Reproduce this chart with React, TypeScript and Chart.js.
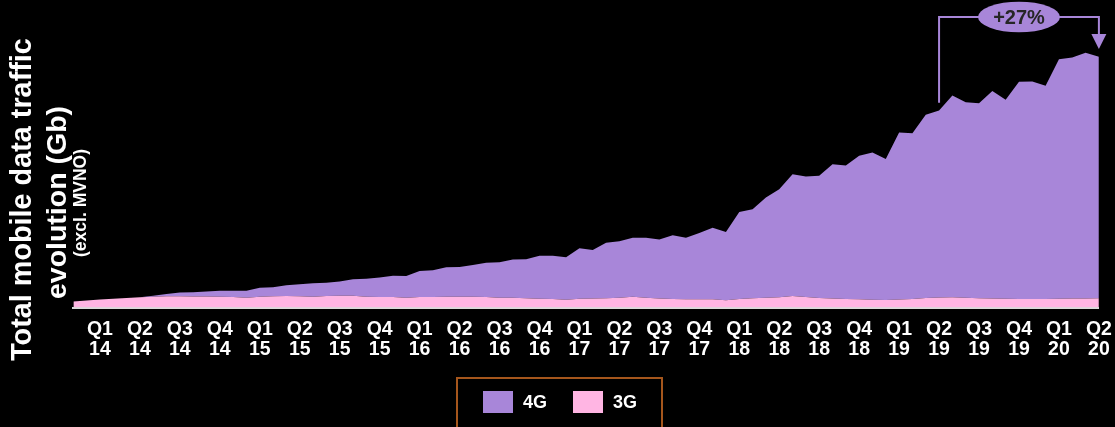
import { useEffect, useRef } from 'react';
import { Chart, registerables } from 'chart.js';

Chart.register(...registerables);

const FONT = '"Liberation Sans", Arial, Helvetica, sans-serif';
const PURPLE = '#A886D9';
const PINK = '#FFB5E3';
const LEGEND_BORDER = '#A5561C';

const months = [
  'Jan 14', 'Feb 14', 'Mar 14', 'Apr 14', 'May 14', 'Jun 14', 'Jul 14', 'Aug 14', 'Sep 14', 'Oct 14', 'Nov 14', 'Dec 14',
  'Jan 15', 'Feb 15', 'Mar 15', 'Apr 15', 'May 15', 'Jun 15', 'Jul 15', 'Aug 15', 'Sep 15', 'Oct 15', 'Nov 15', 'Dec 15',
  'Jan 16', 'Feb 16', 'Mar 16', 'Apr 16', 'May 16', 'Jun 16', 'Jul 16', 'Aug 16', 'Sep 16', 'Oct 16', 'Nov 16', 'Dec 16',
  'Jan 17', 'Feb 17', 'Mar 17', 'Apr 17', 'May 17', 'Jun 17', 'Jul 17', 'Aug 17', 'Sep 17', 'Oct 17', 'Nov 17', 'Dec 17',
  'Jan 18', 'Feb 18', 'Mar 18', 'Apr 18', 'May 18', 'Jun 18', 'Jul 18', 'Aug 18', 'Sep 18', 'Oct 18', 'Nov 18', 'Dec 18',
  'Jan 19', 'Feb 19', 'Mar 19', 'Apr 19', 'May 19', 'Jun 19', 'Jul 19', 'Aug 19', 'Sep 19', 'Oct 19', 'Nov 19', 'Dec 19',
  'Jan 20', 'Feb 20', 'Mar 20', 'Apr 20', 'May 20', 'Jun 20',
];

const quarterLabels = [
  ['Q1', '14'], ['Q2', '14'], ['Q3', '14'], ['Q4', '14'],
  ['Q1', '15'], ['Q2', '15'], ['Q3', '15'], ['Q4', '15'],
  ['Q1', '16'], ['Q2', '16'], ['Q3', '16'], ['Q4', '16'],
  ['Q1', '17'], ['Q2', '17'], ['Q3', '17'], ['Q4', '17'],
  ['Q1', '18'], ['Q2', '18'], ['Q3', '18'], ['Q4', '18'],
  ['Q1', '19'], ['Q2', '19'], ['Q3', '19'], ['Q4', '19'],
  ['Q1', '20'], ['Q2', '20'],
];

// monthly traffic (arbitrary units)
const traffic3G = [
  6, 7, 8, 8.8, 9.5, 10.2, 10.8, 11.3, 11.3, 11,
  10.9, 10.8, 10.6, 9.8, 10.8, 11.2, 11.5, 11.2, 10.8, 11.5,
  11.7, 11.8, 10.8, 10.6, 10.5, 9.8, 10.5, 10.5, 10.8, 10.8,
  10.8, 10.5, 9.8, 9.8, 9.2, 8.8, 8.5, 7.8, 8.8, 9,
  9.2, 9.8, 10.8, 9.8, 9, 8.5, 8.2, 8.2, 8.2, 7.2,
  8.5, 9.2, 9.8, 10.2, 11.5, 10.5, 9.5, 9, 8.5, 8.2,
  7.8, 7.5, 8, 8.5, 9.5, 10, 10.2, 9.8, 9.2, 9,
  8.8, 8.6, 8.5, 8.5, 8.7, 8.9, 9, 9.2,
];

const traffic4G = [
  0, 0, 0, 0, 0, 0, 1.0, 2.2, 3.7, 4.3,
  5.0, 6.0, 6.2, 7.0, 9.0, 9.0, 10.7, 12.0, 13.4, 13.3,
  14.3, 16.5, 17.9, 19.4, 21.3, 21.7, 26.0, 26.8, 29.5, 29.7,
  31.7, 34.2, 35.4, 38.2, 39.1, 42.9, 43.3, 42.5, 50.4, 48.5,
  55.5, 56.4, 58.9, 59.9, 59.0, 63.8, 61.6, 66.3, 71.6, 68.3,
  87.0, 89.0, 100.2, 108.0, 121.8, 120.5, 122.2, 134.2, 133.5, 143.6,
  147.2, 141.0, 167.0, 165.7, 183.3, 187.0, 201.8, 195.4, 195.0, 207.5,
  199.0, 217.2, 217.5, 213.3, 239.5, 241.1, 245.8, 241.6,
];

const GROWTH_FROM = 65; // Jun 19
const GROWTH_TO = 77; // Jun 20
const GROWTH_LABEL = '+27%';
const BRACKET_TOP_VALUE = 290.5;
const BRACKET_GAP = 7.8;

const overlayPlugin = {
  id: 'overlay',
  afterDatasetsDraw(chart: any) {
    const { ctx } = chart;
    const x = chart.scales.x;
    const y = chart.scales.y;
    const total = (i: number) => traffic3G[i] + traffic4G[i];
    const x1 = x.getPixelForValue(GROWTH_FROM);
    const x2 = x.getPixelForValue(GROWTH_TO);
    const yTop = y.getPixelForValue(BRACKET_TOP_VALUE);
    const yStart = y.getPixelForValue(total(GROWTH_FROM) + BRACKET_GAP);
    const yTip = y.getPixelForValue(total(GROWTH_TO) + BRACKET_GAP);
    const headH = 15;
    const headW = 15;
    ctx.save();
    ctx.strokeStyle = PURPLE;
    ctx.fillStyle = PURPLE;
    ctx.lineWidth = 2;
    ctx.beginPath();
    ctx.moveTo(x1, yStart);
    ctx.lineTo(x1, yTop);
    ctx.lineTo(x2, yTop);
    ctx.lineTo(x2, yTip - headH + 1);
    ctx.stroke();
    ctx.beginPath();
    ctx.moveTo(x2 - headW / 2, yTip - headH);
    ctx.lineTo(x2 + headW / 2, yTip - headH);
    ctx.lineTo(x2, yTip);
    ctx.closePath();
    ctx.fill();
    const cx = (x1 + x2) / 2;
    ctx.beginPath();
    ctx.ellipse(cx, yTop, 41, 15.3, 0, 0, Math.PI * 2);
    ctx.fill();
    ctx.fillStyle = '#262626';
    ctx.font = `bold 20px ${FONT}`;
    ctx.textAlign = 'center';
    ctx.textBaseline = 'alphabetic';
    ctx.fillText(GROWTH_LABEL, cx, yTop + 7);
    ctx.restore();
  },
  afterDraw(chart: any) {
    const { ctx } = chart;
    const lines: [string, number, number, number][] = [
      ['Total mobile data traffic', 28.8, 30.5, 199.5],
      ['evolution (Gb)', 28.5, 66, 202.5],
      ['(excl. MVNO)', 17.5, 86, 203],
    ];
    ctx.save();
    ctx.fillStyle = '#ffffff';
    ctx.textAlign = 'center';
    ctx.textBaseline = 'alphabetic';
    for (const [text, size, bx, cy] of lines) {
      ctx.save();
      ctx.translate(bx, cy);
      ctx.rotate(-Math.PI / 2);
      ctx.font = `bold ${size}px ${FONT}`;
      ctx.fillText(text, 0, 0);
      ctx.restore();
    }
    ctx.restore();
  },
};

export default function App() {
  const ref = useRef<HTMLCanvasElement>(null);

  useEffect(() => {
    document.body.style.margin = '0';
    document.body.style.background = '#000';
    const chart = new Chart(ref.current as HTMLCanvasElement, {
      type: 'line',
      data: {
        labels: months,
        datasets: [
          {
            label: '3G',
            data: traffic3G,
            backgroundColor: PINK,
            borderColor: 'rgba(0,0,0,0)',
            borderWidth: 1,
            pointRadius: 0,
            fill: 'origin',
            tension: 0,
          },
          {
            label: '4G',
            data: traffic4G,
            backgroundColor: PURPLE,
            borderColor: 'rgba(0,0,0,0)',
            borderWidth: 1,
            pointRadius: 0,
            fill: '-1',
            tension: 0,
          },
        ],
      },
      options: {
        responsive: false,
        animation: false,
        devicePixelRatio: 1,
        layout: { padding: { left: 73.3, right: 16.1, top: 7.5, bottom: 0 } },
        plugins: {
          legend: { display: false },
          tooltip: { enabled: false },
          title: { display: false },
        },
        scales: {
          x: {
            type: 'category',
            offset: false,
            grid: { display: false, drawTicks: false },
            border: { display: true, color: '#d9d9d9', width: 2 },
            afterFit: (scale: any) => {
              scale.height = 119.5;
              scale.paddingLeft = 0;
              scale.paddingRight = 0;
            },
            ticks: {
              autoSkip: false,
              maxRotation: 0,
              minRotation: 0,
              padding: 11.4,
              color: '#ffffff',
              font: { family: FONT, size: 19.5, weight: 'bold', lineHeight: 1.05 },
              callback: (_v: any, idx: number) =>
                idx % 3 === 2 ? quarterLabels[(idx - 2) / 3] : '',
            },
          },
          y: {
            display: false,
            stacked: true,
            min: 0,
            max: 300,
          },
        },
      },
      plugins: [overlayPlugin],
    } as any);
    return () => chart.destroy();
  }, []);

  const legendText: any = {
    position: 'absolute',
    top: 391,
    height: 22,
    lineHeight: '22px',
    fontFamily: FONT,
    fontWeight: 'bold',
    fontSize: 18,
    color: '#ffffff',
  };

  return (
    <div style={{ position: 'relative', width: 1115, height: 427, overflow: 'hidden', background: '#000' }}>
      <canvas ref={ref} width={1115} height={427} style={{ position: 'absolute', left: 0, top: 0, display: 'block' }} />
      <div
        style={{
          position: 'absolute',
          left: 456,
          top: 377,
          width: 207,
          height: 70,
          border: `2px solid ${LEGEND_BORDER}`,
          boxSizing: 'border-box',
        }}
      />
      <div style={{ position: 'absolute', left: 483, top: 391, width: 30, height: 22, background: PURPLE }} />
      <div style={{ ...legendText, left: 523 }}>4G</div>
      <div style={{ position: 'absolute', left: 573, top: 391, width: 30, height: 22, background: PINK }} />
      <div style={{ ...legendText, left: 613 }}>3G</div>
    </div>
  );
}
